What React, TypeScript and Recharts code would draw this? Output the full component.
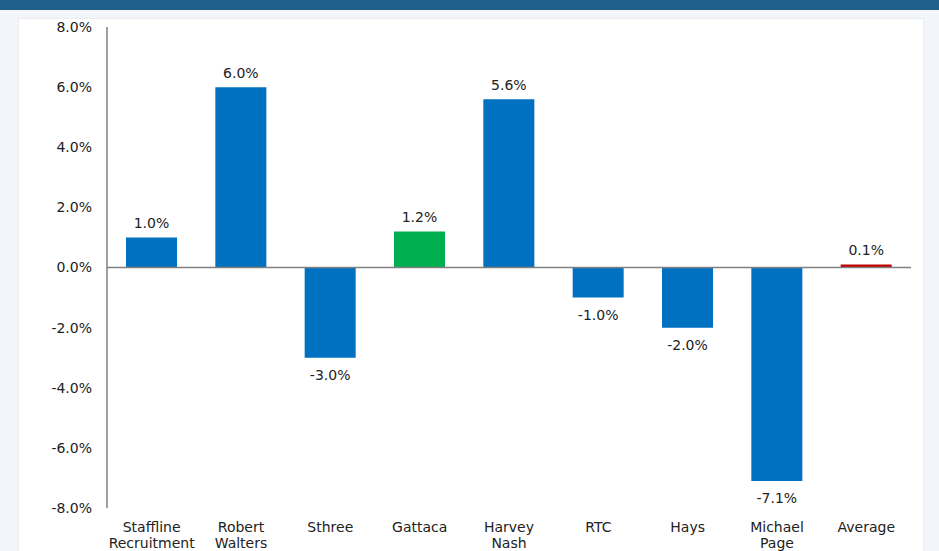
import { BarChart, Bar, XAxis, YAxis, ReferenceLine, Cell, LabelList } from 'recharts';

const companies = [
  'Staffline Recruitment',
  'Robert Walters',
  'Sthree',
  'Gattaca',
  'Harvey Nash',
  'RTC',
  'Hays',
  'Michael Page',
  'Average',
];
const changes = [1.0, 6.0, -3.0, 1.2, 5.6, -1.0, -2.0, -7.1, 0.1];
const barColors = ['#0070C0', '#0070C0', '#0070C0', '#00B050', '#0070C0', '#0070C0', '#0070C0', '#0070C0', '#C00000'];
const yTicks = [-8, -6, -4, -2, 0, 2, 4, 6, 8];

const data = companies.map((name, i) => ({ name, value: changes[i] }));

const FONT = '"DejaVu Sans", Verdana, sans-serif';

const CategoryTick = (props: any) => {
  const { x, y, payload } = props;
  const words = String(payload.value).split(' ');
  return (
    <text x={x} y={y} textAnchor="middle" fontSize={14} fill="#222" fontFamily={FONT}>
      {words.map((w: string, i: number) => (
        <tspan key={i} x={x} dy={i === 0 ? 16 : 16}>
          {w}
        </tspan>
      ))}
    </text>
  );
};

const ValueLabel = (props: any) => {
  const { x, y, width, height, value } = props;
  const cx = x + width / 2;
  const top = Math.min(y, y + height);
  const bottom = Math.max(y, y + height);
  const ty = value < 0 ? bottom + 22 : top - 9;
  return (
    <text x={cx} y={ty} textAnchor="middle" fontSize={14} fill="#222" fontFamily={FONT}>
      {value.toFixed(1)}%
    </text>
  );
};

export default function App() {
  return (
    <div
      style={{
        position: 'absolute',
        left: 0,
        top: 0,
        width: 939,
        height: 551,
        background: '#F2F6FA',
        overflow: 'hidden',
        fontFamily: FONT,
      }}
    >
      <div style={{ position: 'absolute', left: 0, top: 0, width: 939, height: 10, background: '#1F5F8B' }} />
      <div
        style={{
          position: 'absolute',
          left: 18,
          top: 18,
          width: 904,
          height: 540,
          background: '#FFFFFF',
          border: '1px solid #ECECEC',
        }}
      />
      <div style={{ position: 'absolute', left: 0, top: 0 }}>
        <BarChart width={939} height={551} data={data} margin={{ top: 27, right: 28, bottom: 0, left: 0 }}>
          <XAxis
            dataKey="name"
            axisLine={false}
            tickLine={false}
            interval={0}
            height={43}
            tick={<CategoryTick />}
          />
          <YAxis
            width={107}
            domain={[-8, 8]}
            ticks={yTicks}
            tickFormatter={(v: number) => `${v.toFixed(1)}%`}
            tick={{ fontSize: 14, fill: '#222', fontFamily: FONT }}
            tickLine={false}
            tickSize={0}
            tickMargin={15}
            axisLine={{ stroke: '#808080', strokeWidth: 1.5 }}
          />
          <ReferenceLine y={0} stroke="#808080" strokeWidth={1.5} />
          <Bar dataKey="value" barSize={51} isAnimationActive={false}>
            {data.map((d, i) => (
              <Cell key={d.name} fill={barColors[i]} />
            ))}
            <LabelList dataKey="value" content={<ValueLabel />} />
          </Bar>
        </BarChart>
      </div>
    </div>
  );
}
